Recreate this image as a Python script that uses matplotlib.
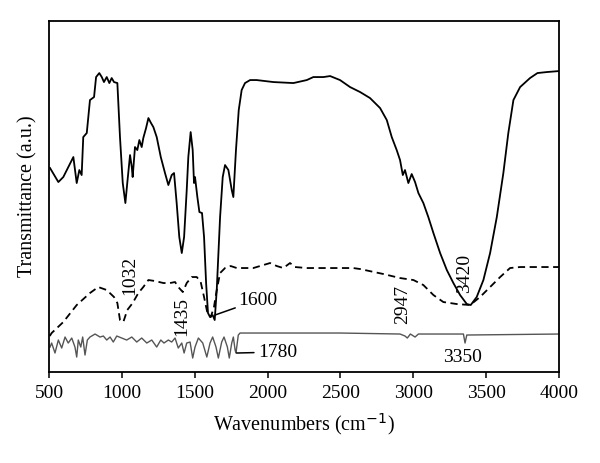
import matplotlib.pyplot as plt

# solid black spectrum (wavenumber, relative transmittance)
wn_a = [507, 564, 598, 667, 690, 708, 724, 735, 759, 781, 809, 823, 845, 862, 877, 896,
        914, 930, 946, 969, 987, 1006, 1024, 1037, 1056, 1068, 1074, 1090, 1106, 1120,
        1136, 1147, 1166, 1182, 1200, 1216, 1239, 1267, 1296, 1319, 1342, 1358, 1376,
        1394, 1411, 1427, 1445, 1456, 1472, 1486, 1495, 1502, 1518, 1532, 1550, 1564,
        1578, 1591, 1605, 1623, 1637, 1651, 1674, 1692, 1708, 1731, 1754, 1765, 1783,
        1802, 1822, 1845, 1880, 1925, 2040, 2177, 2269, 2314, 2383, 2429, 2497, 2566,
        2635, 2703, 2772, 2818, 2852, 2886, 2909, 2928, 2943, 2966, 2989, 3012, 3035,
        3069, 3103, 3138, 3184, 3230, 3275, 3321, 3367, 3394, 3435, 3481, 3527, 3573,
        3618, 3652, 3687, 3733, 3801, 3852, 3916, 4000]
tr_a = [204, 190, 195, 215, 189, 202, 197, 235, 239, 272, 275, 295, 299, 295, 290, 295,
        289, 294, 290, 289, 235, 189, 169, 189, 217, 205, 195, 225, 222, 232,
        225, 234, 244, 254, 249, 245, 235, 215, 199, 187, 197, 199, 169,
        135, 119, 135, 182, 215, 240, 222, 189, 195, 175, 160, 159, 135,
        89, 59, 55, 57, 52, 82, 155, 195, 207, 202, 182, 175, 222,
        262, 282, 289, 292, 292, 290, 289, 292, 295, 295, 296, 292, 285,
        280, 274, 264, 252, 235, 222, 212, 197, 202, 189, 198, 190, 179,
        169, 155, 139, 119, 102, 89, 77, 68, 67, 75, 92, 119, 155,
        199, 239, 272, 285, 294, 299, 300, 301]

# dashed spectrum
wn_b = [505, 518, 598, 690, 781, 838, 896, 946, 969, 987, 1010, 1037, 1074, 1113, 1147,
        1182, 1228, 1285, 1330, 1365, 1387, 1418, 1445, 1479, 1514, 1541, 1564, 1587,
        1610, 1632, 1651, 1674, 1708, 1747, 1788, 1902, 1971, 2017, 2063, 2108, 2154,
        2188, 2269, 2587, 2635, 2795, 2909, 3001, 3069, 3138, 3206, 3298, 3390, 3458,
        3527, 3596, 3664, 3733, 4000]
tr_b = [36, 39, 50, 67, 79, 85, 82, 75, 69, 52, 50, 62, 69, 79, 85,
        92, 91, 89, 89, 90, 85, 80, 89, 95, 95, 90, 75, 59,
        55, 65, 82, 99, 104, 106, 104, 104, 107, 109, 106, 104, 109,
        105, 104, 104, 103, 98, 94, 92, 87, 77, 70, 68, 67, 75,
        85, 95, 104, 105, 105]

# gray spectrum
wn_c = [507, 518, 541, 564, 587, 610, 632, 656, 678, 690, 701, 718, 731, 747, 763, 781,
        816, 850, 873, 896, 919, 941, 965, 999, 1033, 1068, 1102, 1136, 1171, 1205,
        1239, 1267, 1289, 1319, 1342, 1365, 1387, 1411, 1427, 1445, 1468, 1486, 1502,
        1525, 1555, 1583, 1605, 1623, 1646, 1662, 1685, 1701, 1724, 1737, 1754, 1765,
        1777, 1783, 1799, 1811, 2223, 2497, 2909, 2943, 2959, 2980, 3012, 3035, 3344,
        3355, 3367, 4000]
tr_c = [25, 29, 19, 32, 24, 35, 29, 34, 25, 15, 32, 25, 35, 17, 32, 35,
        38, 35, 36, 32, 35, 30, 36, 34, 32, 35, 30, 34, 29, 32,
        25, 32, 29, 32, 30, 34, 24, 29, 19, 29, 30, 14, 25,
        34, 29, 15, 29, 35, 25, 14, 30, 35, 25, 14, 29, 35,
        22, 19, 37, 39, 39, 39, 38, 36, 34, 38, 35, 38, 38,
        29, 37, 38]

plt.rcParams['font.family'] = ['Liberation Serif', 'DejaVu Serif']

fig = plt.figure(figsize=(6, 4.63), dpi=100)
ax = fig.add_axes([0.0817, 0.1965, 0.85, 0.758])

ax.plot(wn_a, tr_a, color='black', lw=1.3)
ax.plot(wn_b, tr_b, color='black', lw=1.3, dashes=(4, 2.5))
ax.plot(wn_c, tr_c, color='#555555', lw=1.0)

ax.set_xlim(500, 4000)
ax.set_ylim(0, 351)
ax.set_xticks(range(500, 4001, 500))
ax.set_yticks([])
ax.tick_params(axis='x', direction='out', length=4, width=1.1, labelsize=14, pad=5)
for s in ax.spines.values():
    s.set_linewidth(1.3)

ax.set_xlabel('Wavenumbers (cm$^{-1}$)', fontsize=14.5, labelpad=7)
ax.set_ylabel('Transmittance (a.u.)', fontsize=14.5, labelpad=8)

fs = 14
ax.text(1056, 97, '1032', rotation=90, ha='center', va='center', fontsize=fs)
ax.text(1413, 56, '1435', rotation=90, ha='center', va='center', fontsize=fs)
ax.text(2930, 68, '2947', rotation=90, ha='center', va='center', fontsize=fs)
ax.text(3355, 99, '3420', rotation=90, ha='center', va='center', fontsize=fs)
ax.text(3335, 15, '3350', ha='center', va='center', fontsize=fs)
ax.annotate('1600', xy=(1639, 57), xytext=(1797, 72), ha='left', va='center', fontsize=fs,
            arrowprops=dict(arrowstyle='-', color='black', lw=1.1, shrinkA=0, shrinkB=0))
ax.annotate('1780', xy=(1788, 19), xytext=(1935, 20), ha='left', va='center', fontsize=fs,
            arrowprops=dict(arrowstyle='-', color='black', lw=1.1, shrinkA=1, shrinkB=0))

plt.savefig('out.png', dpi=100)
